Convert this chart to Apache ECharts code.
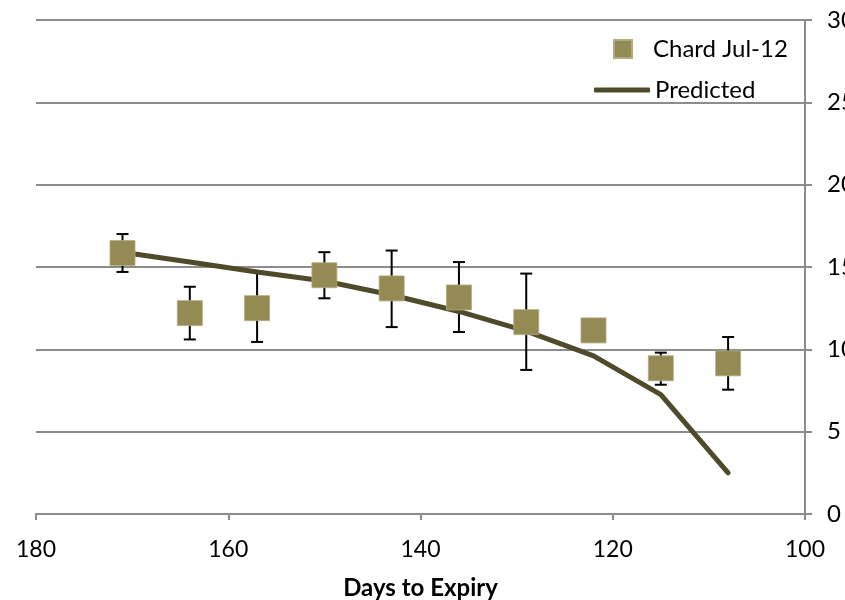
<!DOCTYPE html>
<html>
<head>
<meta charset="utf-8">
<script src="https://cdn.jsdelivr.net/npm/echarts@6/dist/echarts.min.js"></script>
<style>html,body{margin:0;padding:0;background:#fff}#c{width:845px;height:600px}</style>
</head>
<body>
<div id="c"></div>
<script>
var days = [171, 164, 157, 150, 143, 136, 129, 122, 115, 108];
var observed = [15.85, 12.2, 12.5, 14.5, 13.7, 13.15, 11.65, 11.15, 8.85, 9.15];
var errHigh = [17.0, 13.8, 14.7, 15.9, 16.0, 15.3, 14.6, 11.4, 9.8, 10.75];
var errLow = [14.7, 10.6, 10.45, 13.1, 11.35, 11.05, 8.75, 10.9, 7.85, 7.55];
var predicted = [15.9, 15.3, 14.7, 14.15, 13.3, 12.3, 11.1, 9.6, 7.25, 2.5];
var xTicks = [100, 120, 140, 160, 180];
var yTicks = [0, 5, 10, 15, 20, 25, 30];

var FONT = 'Lato';
var chart = echarts.init(document.getElementById('c'), null, {renderer: 'canvas'});

var scatterData = days.map(function (d, i) { return [d, observed[i]]; });
var lineData = days.map(function (d, i) { return [d, predicted[i]]; });
var errData = days.map(function (d, i) { return [d, errLow[i], errHigh[i]]; });

chart.setOption({
  animation: false,
  backgroundColor: '#fff',
  textStyle: {fontFamily: FONT},
  grid: {left: 36, right: 40, top: 20, bottom: 86, containLabel: false, outerBoundsMode: 'none'},
  legend: [{
    data: ['Chard Jul-12'],
    left: 613, top: 37, padding: 0,
    icon: 'rect', itemWidth: 18, itemHeight: 18,
    textStyle: {fontFamily: FONT, fontSize: 24, color: '#000', padding: [0, 0, 0, 16]}
  }, {
    data: ['Predicted'],
    left: 594, top: 78, padding: 0,
    icon: 'roundRect', itemWidth: 56, itemHeight: 5,
    itemStyle: {color: '#4f4a2a'},
    textStyle: {fontFamily: FONT, fontSize: 24, color: '#000', padding: [0, 0, 0, 0]}
  }],
  xAxis: {
    type: 'value', inverse: true, min: 100, max: 180, interval: 20,
    axisLine: {show: true, lineStyle: {color: '#8c8c8c', width: 2}},
    axisTick: {show: true, length: 6, lineStyle: {color: '#8c8c8c', width: 2}},
    splitLine: {show: false},
    axisLabel: {fontFamily: FONT, fontSize: 23, color: '#000', margin: 24,
      customValues: xTicks},
    name: 'Days to Expiry', nameLocation: 'middle', nameGap: 62,
    nameTextStyle: {fontFamily: FONT, fontSize: 24, fontWeight: 'bold', color: '#000'}
  },
  yAxis: {
    type: 'value', position: 'right', min: 0, max: 30, interval: 5,
    axisLine: {show: true, lineStyle: {color: '#8c8c8c', width: 2}},
    axisTick: {show: true, length: 7, lineStyle: {color: '#8c8c8c', width: 2}},
    splitLine: {show: true, lineStyle: {color: '#8c8c8c', width: 2}},
    axisLabel: {fontFamily: FONT, fontSize: 24, color: '#000', margin: 22,
      customValues: yTicks}
  },
  series: [{
    type: 'custom',
    name: 'err',
    z: 1,
    data: errData,
    encode: {x: 0, y: [1, 2]},
    renderItem: function (params, api) {
      var x = api.value(0);
      var lo = api.coord([x, api.value(1)]);
      var hi = api.coord([x, api.value(2)]);
      var cw = 6;
      var st = {stroke: '#000', lineWidth: 2};
      return {
        type: 'group',
        children: [
          {type: 'line', shape: {x1: lo[0], y1: lo[1], x2: hi[0], y2: hi[1]}, style: st},
          {type: 'line', shape: {x1: hi[0] - cw, y1: hi[1], x2: hi[0] + cw, y2: hi[1]}, style: st},
          {type: 'line', shape: {x1: lo[0] - cw, y1: lo[1], x2: lo[0] + cw, y2: lo[1]}, style: st}
        ]
      };
    },
    silent: true
  }, {
    type: 'line',
    name: 'Predicted',
    z: 2,
    data: lineData,
    showSymbol: false,
    symbol: 'none',
    lineStyle: {color: '#4f4a2a', width: 5, cap: 'round', join: 'round'},
    itemStyle: {color: '#4f4a2a'}
  }, {
    type: 'scatter',
    name: 'Chard Jul-12',
    z: 3,
    data: scatterData,
    symbol: 'rect',
    symbolSize: 25,
    itemStyle: {color: '#948a54', borderColor: '#b3ab80', borderWidth: 0.8, opacity: 1}
  }]
});
</script>
</body>
</html>
